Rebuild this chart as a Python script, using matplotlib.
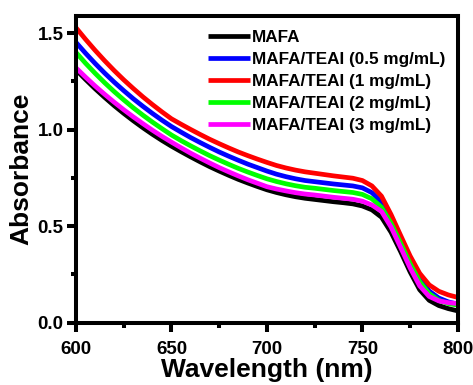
import matplotlib
matplotlib.use("Agg")
import matplotlib.pyplot as plt
from matplotlib.ticker import MultipleLocator, FormatStrFormatter

plt.rcParams['font.family'] = ['Liberation Sans', 'DejaVu Sans']
plt.rcParams['font.weight'] = 'bold'

wavelength = list(range(600, 801, 5))

mafa = [1.310, 1.260, 1.212, 1.167, 1.124, 1.084, 1.046, 1.010, 0.976, 0.944, 0.914,
        0.886, 0.859, 0.833, 0.808, 0.785, 0.763, 0.742, 0.723, 0.705, 0.688,
        0.674, 0.662, 0.652, 0.644, 0.638, 0.632, 0.626, 0.621, 0.615, 0.604,
        0.584, 0.546, 0.468, 0.368, 0.262, 0.170, 0.115, 0.088, 0.072, 0.060]
teai_05 = [1.452, 1.396, 1.343, 1.293, 1.246, 1.202, 1.160, 1.121, 1.084, 1.049, 1.016,
           0.987, 0.959, 0.933, 0.908, 0.884, 0.862, 0.841, 0.821, 0.803, 0.785,
           0.769, 0.756, 0.745, 0.736, 0.730, 0.724, 0.718, 0.713, 0.708, 0.698,
           0.673, 0.624, 0.535, 0.428, 0.318, 0.225, 0.163, 0.127, 0.107, 0.095]
teai_1 = [1.528, 1.468, 1.411, 1.357, 1.306, 1.258, 1.213, 1.170, 1.130, 1.092, 1.056,
          1.028, 1.001, 0.975, 0.950, 0.927, 0.905, 0.884, 0.865, 0.847, 0.830,
          0.814, 0.801, 0.790, 0.781, 0.774, 0.767, 0.760, 0.754, 0.748, 0.736,
          0.708, 0.655, 0.560, 0.452, 0.345, 0.255, 0.195, 0.162, 0.143, 0.130]
teai_2 = [1.400, 1.344, 1.292, 1.243, 1.197, 1.154, 1.113, 1.075, 1.039, 1.005, 0.972,
          0.943, 0.916, 0.890, 0.865, 0.842, 0.820, 0.799, 0.780, 0.762, 0.745,
          0.731, 0.719, 0.709, 0.701, 0.696, 0.690, 0.684, 0.679, 0.674, 0.664,
          0.641, 0.598, 0.515, 0.412, 0.305, 0.212, 0.150, 0.115, 0.098, 0.090]
teai_3 = [1.320, 1.272, 1.226, 1.183, 1.142, 1.103, 1.066, 1.031, 0.997, 0.965, 0.935,
          0.906, 0.878, 0.852, 0.827, 0.803, 0.781, 0.760, 0.740, 0.722, 0.704,
          0.692, 0.682, 0.673, 0.666, 0.661, 0.655, 0.649, 0.644, 0.639, 0.629,
          0.609, 0.576, 0.495, 0.390, 0.283, 0.190, 0.135, 0.112, 0.103, 0.098]

labels = ["MAFA", "MAFA/TEAI (0.5 mg/mL)", "MAFA/TEAI (1 mg/mL)",
          "MAFA/TEAI (2 mg/mL)", "MAFA/TEAI (3 mg/mL)"]
series = [mafa, teai_05, teai_1, teai_2, teai_3]
colors = ["#000000", "#0000ff", "#ff0000", "#00ff00", "#ff00ff"]

fig = plt.figure(figsize=(4.73, 3.85), dpi=100)
ax = fig.add_axes([0.1607, 0.1623, 0.8073, 0.7967])

for y, c, lab in zip(series, colors, labels):
    ax.plot(wavelength, y, color=c, lw=3.4, label=lab,
            solid_joinstyle='round', solid_capstyle='butt')

ax.set_xlim(600, 800)
ax.set_ylim(0, 1.59)
ax.xaxis.set_major_locator(MultipleLocator(50))
ax.xaxis.set_minor_locator(MultipleLocator(25))
ax.yaxis.set_major_locator(MultipleLocator(0.5))
ax.yaxis.set_minor_locator(MultipleLocator(0.25))
ax.yaxis.set_major_formatter(FormatStrFormatter('%.1f'))

for s in ax.spines.values():
    s.set_linewidth(2.9)
ax.tick_params(which='major', direction='out', length=6.5, width=2.9, labelsize=13.5)
ax.tick_params(axis='x', which='major', pad=7)
ax.tick_params(axis='y', which='major', pad=2.5)
ax.tick_params(which='minor', direction='out', length=3.6, width=2.9)
for lab in ax.get_xticklabels() + ax.get_yticklabels():
    lab.set_fontweight('bold')

ax.set_xlabel("Wavelength (nm)", fontsize=19, fontweight='bold', labelpad=0)
ax.set_ylabel("Absorbance", fontsize=19, fontweight='bold', labelpad=3)

leg = ax.legend(loc='upper left', bbox_to_anchor=(0.345, 0.955), frameon=False,
                prop={'weight': 'bold', 'size': 12.3}, handlelength=2.5,
                handletextpad=0.1, labelspacing=0.42, borderpad=0, borderaxespad=0)

fig.savefig("out.png", dpi=100)
